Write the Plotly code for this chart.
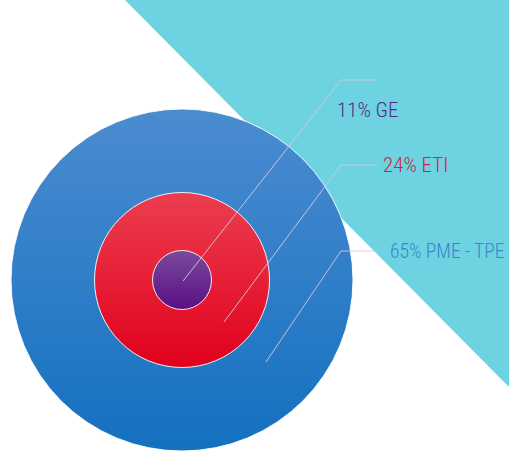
import plotly.graph_objects as go

# Data
categories = ["GE", "ETI", "PME - TPE"]
shares = [11, 24, 65]
text_colors = ["#5a2a88", "#d8203e", "#3a86c8"]

# drawing order: outer (PME) -> inner (GE)
ring_order = [2, 1, 0]
ring_sizes = {0: 59, 1: 175, 2: 342}
top_colors = {0: "#7a4a9c", 1: "#ec3e50", 2: "#4b8cd0"}
bot_colors = {0: "#5a0f86", 1: "#e0001c", 2: "#1470c0"}

cx, cy = 182, 280

fig = go.Figure()

# background triangle
fig.add_shape(type="path", path="M 119,-6 L 520,-6 L 520,398 Z",
              fillcolor="#6dd3e0", line=dict(width=0), layer="below")

fig.add_trace(go.Scatter(
    x=[cx] * 3, y=[cy] * 3, mode="markers",
    marker=dict(
        size=[ring_sizes[i] for i in ring_order],
        color=[top_colors[i] for i in ring_order],
        gradient=dict(type="vertical", color=[bot_colors[i] for i in ring_order]),
        line=dict(color="rgba(255,255,255,0.9)", width=1),
        opacity=1,
    ),
    hoverinfo="skip", showlegend=False,
))

# leader lines: anchor inside ring -> elbow -> end, and label positions
anchors = {0: (183, 281), 1: (224, 322), 2: (266, 362)}
elbow_y = {0: 80, 1: 165, 2: 251}
elbow_x = 341
end_x = 377
label_pos = {0: (335, 110), 1: (381, 165), 2: (388, 251)}
label_size = {0: 21, 1: 21, 2: 19.5}

for i in range(3):
    ax, ay = anchors[i]
    fig.add_trace(go.Scatter(
        x=[ax, elbow_x, end_x], y=[ay, elbow_y[i], elbow_y[i]], mode="lines",
        line=dict(color="rgba(215,200,220,0.9)", width=1),
        hoverinfo="skip", showlegend=False,
    ))
    lx, ly = label_pos[i]
    fig.add_annotation(x=lx, y=ly, xref="x", yref="y", showarrow=False,
                       text=f"{shares[i]}% {categories[i]}", xanchor="left", yanchor="middle",
                       font=dict(family="Roboto Condensed", size=label_size[i],
                                 color=text_colors[i], weight=300))

fig.update_layout(
    width=509, height=452, margin=dict(l=0, r=0, t=0, b=0),
    paper_bgcolor="white", plot_bgcolor="white",
    xaxis=dict(range=[0, 509], visible=False, fixedrange=True),
    yaxis=dict(range=[452, 0], visible=False, fixedrange=True),
    showlegend=False,
)

fig.write_html("out.html", config={"displayModeBar": False},
               post_script="document.body.style.margin='0';")
